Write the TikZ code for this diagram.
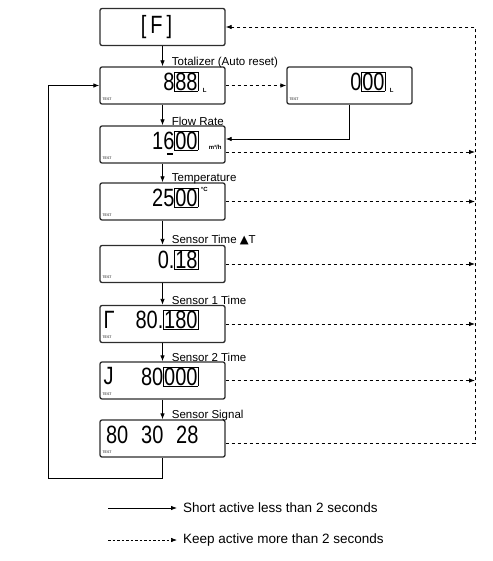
\documentclass[tikz,border=0pt]{standalone}
\usepackage{graphicx}
\usepackage{fontspec}
\setmainfont{Liberation Sans}
\newfontfamily\symfont{DejaVu Sans}
\usetikzlibrary{arrows.meta, positioning, calc}
\definecolor{lcdframe}{RGB}{45,45,45}
\newcommand{\lcd}[1]{\scalebox{0.8}[1]{#1}}
\newcommand{\cur}[1]{{\setlength{\fboxsep}{0.6pt}\setlength{\fboxrule}{0.5pt}\fbox{#1}}}

\begin{document}
\begin{tikzpicture}[x=1pt, y=-1pt, >={Latex[length=6pt,width=4.5pt]},
  lcdbox/.style={draw=lcdframe, line width=1.3pt, rounded corners=2pt,
                 minimum width=125pt, minimum height=37pt, inner sep=0pt},
  readout/.style={anchor=east, inner sep=0pt, font=\fontsize{25}{25}\selectfont},
  tag/.style={anchor=south west, inner sep=0pt, font=\fontsize{3.5}{4}\selectfont},
  unit/.style={inner sep=0pt, font=\bfseries\fontsize{6}{7}\selectfont},
  lbl/.style={right, pos=0.8, xshift=8pt, inner sep=1pt, font=\fontsize{11.5}{13}\selectfont},
  short/.style={line width=0.8pt},
  hold/.style={line width=0.8pt, dash pattern=on 3.5pt off 2.5pt},
  legend/.style={anchor=west, inner sep=0pt, font=\fontsize{13.5}{16}\selectfont}]

  \useasboundingbox (0,0) rectangle (492,561);

  % display boxes
  \node[lcdbox] (fmode)  at (162.5,27)    {};
  \node[lcdbox] (total)  at (162.5,85.5)  {};
  \node[lcdbox] (reset)  at (349.5,85.5)  {};
  \node[lcdbox] (flow)   at (162.5,144.5) {};
  \node[lcdbox] (temp)   at (162.5,201.5) {};
  \node[lcdbox] (dtime)  at (162.5,264)   {};
  \node[lcdbox] (stime1) at (162.5,324)   {};
  \node[lcdbox] (stime2) at (162.5,380.5) {};
  \node[lcdbox] (signal) at (162.5,438.5) {};

  % readouts
  \node[readout, anchor=center] (fmodeval) at ([xshift=-6pt]fmode.center)
        {\lcd{[\hspace{5pt}F\hspace{5pt}]}};
  \node[readout] (totalval)  at ([xshift=-27pt,yshift=4pt]total.east)  {\lcd{8\cur{88}}};
  \node[readout] (resetval)  at ([xshift=-27pt,yshift=4pt]reset.east)  {\lcd{0\cur{00}}};
  \node[readout] (flowval)   at ([xshift=-27pt,yshift=4pt]flow.east)   {\lcd{16\cur{00}}};
  \node[readout] (tempval)   at ([xshift=-27pt,yshift=4pt]temp.east)   {\lcd{25\cur{00}}};
  \node[readout] (dtimeval)  at ([xshift=-27pt,yshift=4pt]dtime.east)  {\lcd{0.\cur{18}}};
  \node[readout] (stime1val) at ([xshift=-27pt,yshift=4pt]stime1.east) {\lcd{80.\cur{180}}};
  \node[readout] (stime2val) at ([xshift=-27pt,yshift=4pt]stime2.east) {\lcd{80\cur{000}}};
  \node[readout] (signalval) at ([xshift=-27pt,yshift=4pt]signal.east)
        {\lcd{80\hspace{16pt}30\hspace{16pt}28}};
  \node[readout, anchor=west] (stime1sym) at ([xshift=4pt,yshift=4pt]stime1.west) {\lcd{Γ}};
  \node[readout, anchor=west] (stime2sym) at ([xshift=4pt,yshift=4pt]stime2.west) {\lcd{J}};

  \node[unit, anchor=base west]  (totalunit) at ([xshift=4pt,yshift=-2pt]totalval.base east) {L};
  \node[unit, anchor=base west]  (resetunit) at ([xshift=4pt,yshift=-2pt]resetval.base east) {L};
  \node[unit, anchor=base west]  (flowunit)  at ([xshift=10pt]flowval.base east) {m³/h};
  \node[unit, anchor=north west] (tempunit)  at ([xshift=2pt]tempval.north east) {°C};
  \draw[line width=1.3pt] ($(flowval.base)+(-8.5,5)$) -- ++(6,0);

  \node[tag] (totaltag)  at ([xshift=3pt,yshift=4pt]total.south west)  {TEST};
  \node[tag] (resettag)  at ([xshift=3pt,yshift=4pt]reset.south west)  {TEST};
  \node[tag] (flowtag)   at ([xshift=3pt,yshift=4pt]flow.south west)   {TEST};
  \node[tag] (temptag)   at ([xshift=3pt,yshift=4pt]temp.south west)   {TEST};
  \node[tag] (dtimetag)  at ([xshift=3pt,yshift=4pt]dtime.south west)  {TEST};
  \node[tag] (stime1tag) at ([xshift=3pt,yshift=4pt]stime1.south west) {TEST};
  \node[tag] (stime2tag) at ([xshift=3pt,yshift=4pt]stime2.south west) {TEST};
  \node[tag] (signaltag) at ([xshift=3pt,yshift=4pt]signal.south west) {TEST};

  % short press chain
  \draw[->, short] (fmode)  -- node[lbl] {Totalizer (Auto reset)} (total);
  \draw[->, short] (total)  -- node[lbl] {Flow Rate} (flow);
  \draw[->, short] (flow)   -- node[lbl] {Temperature} (temp);
  \draw[->, short] (temp)   -- node[lbl] {Sensor Time {\symfont ▲}T} (dtime);
  \draw[->, short] (dtime)  -- node[lbl] {Sensor 1 Time} (stime1);
  \draw[->, short] (stime1) -- node[lbl] {Sensor 2 Time} (stime2);
  \draw[->, short] (stime2) -- node[lbl] {Sensor Signal} (signal);

  \coordinate (loopbot) at (48,478);
  \draw[->, short] (signal.south) |- (loopbot) |- (total.west);

  \draw[->, hold] (total) -- (reset);
  \draw[->, short] (reset.south) |- ([yshift=5.5pt]flow.east);

  % long press back to [F]
  \coordinate (railtop) at (475,27);
  \coordinate (flowout) at ([yshift=-7.5pt]flow.east);
  \coordinate (signalout) at ([yshift=-4.5pt]signal.east);
  \draw[->, hold] (flowout)    -- (railtop |- flowout);
  \draw[->, hold] (temp.east)   -- (railtop |- temp.east);
  \draw[->, hold] (dtime.east)  -- (railtop |- dtime.east);
  \draw[->, hold] (stime1.east) -- (railtop |- stime1.east);
  \draw[->, hold] (stime2.east) -- (railtop |- stime2.east);
  \draw[->, hold] (signalout) -| (railtop) -- (fmode.east);

  % legend
  \node[legend] (shortlbl) at (183,508) {Short active less than 2 seconds};
  \node[legend] (holdlbl)  at (183,540) {Keep active more than 2 seconds};
  \coordinate (shortfrom) at (108,508);
  \coordinate (holdfrom)  at (108,540);
  \draw[->, short] (shortfrom) -- ([xshift=-6pt]shortlbl.west);
  \draw[->, hold, line width=0.6pt, dash pattern=on 2.5pt off 2pt] (holdfrom) -- ([xshift=-6pt]holdlbl.west);
\end{tikzpicture}
\end{document}
